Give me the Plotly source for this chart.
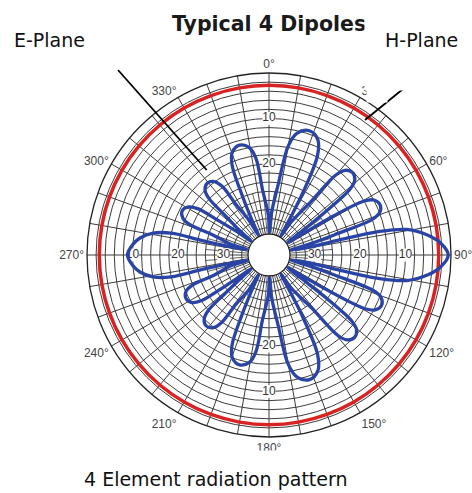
import plotly.graph_objects as go

# ---------------- data ----------------
# E-plane (blue) pattern: angle in degrees (clockwise from top), attenuation in dB
e_theta = [
    332, 334, 335.8, 337.7, 340.4, 345.0, 349.6, 352.3, 354.3, 359.0,
    1, 3, 7.5, 10.0, 13.0, 18.0, 23.0, 26.0, 28.5, 30.0,
    32, 34, 38.1, 39.9, 41.9, 45.4, 48.9, 50.9, 52.7, 54.0,
    56, 58, 58.6, 60.4, 62.3, 65.7, 69.1, 71.0, 72.8, 75.0,
    77, 79, 77.9, 77.9, 79.5, 82.9, 86.0, 90.0, 94.0, 97.1, 100.5, 102.1, 102.1, 101.0,
    103, 105, 107.0, 108.8, 110.7, 114.0, 117.3, 119.2, 121.0, 122.0,
    124, 126, 126.8, 128.6, 130.5, 134.0, 137.5, 139.4, 141.2, 146.0,
    148, 150, 151.5, 154.0, 157.1, 162.0, 166.9, 170.0, 172.5, 177.0,
    179, 181, 185.8, 187.7, 190.4, 195.0, 199.6, 202.3, 204.3, 206.0,
    208, 210, 213.9, 215.1, 217.4, 221.3, 225.2, 227.5, 228.7, 230.0,
    232, 234, 234.8, 236.0, 238.3, 242.3, 246.3, 248.6, 249.8, 254.0,
    256, 258, 257.7, 257.4, 259.3, 262.5, 265.8, 270.0, 274.2, 277.5, 280.7, 282.6, 282.3, 282.0,
    284, 286, 289.7, 291.0, 293.2, 297.0, 300.8, 303.0, 304.3, 306.0,
    308, 310, 312.1, 313.3, 315.6, 319.5, 323.4, 325.7, 326.9, 330.0,
    332,
]
e_db = [
    35.0, 31.2, 25.5, 18.6, 16.0, 15.0, 16.0, 18.6, 25.5, 31.2,
    35.0, 31.2, 24.2, 15.7, 12.5, 11.3, 12.5, 15.7, 24.2, 31.2,
    35.0, 31.2, 25.3, 17.1, 15.0, 14.2, 15.0, 17.1, 25.3, 31.2,
    35.0, 31.2, 24.9, 16.1, 14.0, 13.2, 14.0, 16.1, 24.9, 31.2,
    35.0, 31.2, 24.6, 15.4, 9.2, 4.8, 2.2, 0.6, 2.2, 4.8, 9.2, 15.4, 24.6, 31.2,
    35.0, 31.2, 24.8, 15.8, 13.7, 12.9, 13.7, 15.8, 24.8, 31.2,
    35.0, 31.2, 25.1, 16.7, 14.7, 13.9, 14.7, 16.7, 25.1, 31.2,
    35.0, 31.2, 24.2, 15.6, 12.4, 11.2, 12.4, 15.6, 24.2, 31.2,
    35.0, 31.2, 25.5, 18.6, 16.0, 15.0, 16.0, 18.6, 25.5, 31.2,
    35.0, 31.2, 27.0, 21.8, 19.9, 19.2, 19.9, 21.8, 27.0, 31.2,
    35.0, 31.2, 27.1, 22.0, 20.1, 19.4, 20.1, 22.0, 27.1, 31.2,
    35.0, 31.2, 24.6, 18.0, 14.1, 11.4, 9.9, 8.9, 9.9, 11.4, 14.1, 18.0, 24.6, 31.2,
    35.0, 31.2, 26.8, 21.3, 19.4, 18.6, 19.4, 21.3, 26.8, 31.2,
    35.0, 31.2, 27.0, 21.8, 19.9, 19.2, 19.9, 21.8, 27.0, 31.2,
    35.0,
]

# H-plane (red) pattern: nearly omnidirectional
h_theta = [0, 10, 20, 30, 40, 50, 60, 70, 80, 90, 100, 110, 120, 130, 140, 150, 160, 170, 180,
           190, 200, 210, 220, 230, 240, 250, 260, 270, 280, 290, 300, 310, 320, 330, 340, 350, 360]
h_db = [2.7, 2.7, 2.7, 2.7, 2.7, 2.7, 2.7, 2.7, 2.7, 2.7, 2.7, 2.7, 2.7, 2.7, 2.7, 2.7, 2.7, 2.7, 2.7,
        2.7, 2.7, 2.7, 2.7, 2.7, 2.7, 2.7, 2.7, 2.7, 2.7, 2.7, 2.7, 2.7, 2.7, 2.7, 2.7, 2.7, 2.7]

# radial scale labels printed on the chart
label_theta = [0, 0, 90, 90, 90, 180, 180, 270, 270, 270]
label_db = [10, 20, 30, 20, 10, 10, 20, 10, 20, 30]
label_text = ["10", "20", "30", "20", "10", "10", "20", "10", "20", "30"]

# angular tick labels
angle_label_vals = [0, 30, 60, 90, 120, 150, 180, 210, 240, 270, 300, 330]
angle_label_text = ["0°", "30°", "60°", "90°", "120°", "150°", "180°", "210°", "240°", "270°", "300°", "330°"]

# ---------------- figure ----------------
W, H = 472, 493
CX, CY, R = 269, 255, 182
HOLE_DB = 35.4
HOLE_PX = 21
GRID = "#3c3c3c"


def neg(v):
    return [None if x is None else -x for x in v]


fig = go.Figure()

# extra fine spokes near centre (chart paper)
sp_t, sp_r = [], []
for a in range(5, 360, 10):
    sp_t += [a, a, None]
    sp_r += [-35.3, -26, None]
fig.add_trace(go.Scatterpolar(theta=sp_t, r=sp_r, mode="lines",
                              line=dict(color=GRID, width=0.8), hoverinfo="skip"))

# radial scale labels
fig.add_trace(go.Scatterpolar(
    theta=label_theta, r=neg(label_db), mode="markers+text", text=label_text,
    textposition="middle center",
    marker=dict(symbol="square", size=13, color="white", line=dict(width=0)),
    textfont=dict(family="Liberation Sans, Arial, sans-serif", size=12, color="#333333"),
    hoverinfo="skip"))

# H-plane (red)
fig.add_trace(go.Scatterpolar(theta=h_theta, r=neg(h_db), mode="lines",
                              line=dict(color="#d92222", width=3.5, shape="spline"),
                              name="H-Plane"))

# E-plane (blue)
fig.add_trace(go.Scatterpolar(theta=e_theta, r=neg(e_db), mode="lines",
                              line=dict(color="#2a44a6", width=3.3, shape="spline", smoothing=1),
                              name="E-Plane"))

tick_vals = [i * 10 for i in range(36)]
tick_text = [angle_label_text[angle_label_vals.index(v)] if v in angle_label_vals else "" for v in tick_vals]

fig.update_layout(
    width=W, height=H,
    margin=dict(l=0, r=0, t=0, b=0),
    paper_bgcolor="white", plot_bgcolor="white",
    showlegend=False,
    polar=dict(
        domain=dict(x=[(CX - R) / W, (CX + R) / W], y=[(H - CY - R) / H, (H - CY + R) / H]),
        hole=HOLE_PX / R,
        bgcolor="white",
        radialaxis=dict(range=[-HOLE_DB, 0], tickmode="array",
                        tickvals=[-35.3] + [-v for v in range(34, 0, -2)],
                        showticklabels=False, ticks="", showline=False,
                        gridcolor=GRID, gridwidth=0.8),
        angularaxis=dict(rotation=90, direction="clockwise", tickmode="array",
                         tickvals=tick_vals, ticktext=tick_text, ticks="",
                         showline=True, linecolor="#222222", linewidth=1.3,
                         gridcolor=GRID, gridwidth=0.8,
                         tickfont=dict(family="Liberation Sans, Arial, sans-serif", size=12, color="#444444")),
    ),
)


def px(x):
    return x / W


def py(y):
    return 1 - y / H


# pointer lines
fig.add_shape(type="line", xref="paper", yref="paper", x0=px(118), y0=py(70), x1=px(206.7), y1=py(170),
              line=dict(color="black", width=1.8))
fig.add_shape(type="line", xref="paper", yref="paper", x0=px(403), y0=py(89), x1=px(365), y1=py(120),
              line=dict(color="black", width=1.8))

TXT = "DejaVu Sans, Verdana, sans-serif"
fig.add_annotation(text="<b>Typical 4 Dipoles</b>", x=px(170), y=py(24), xref="paper", yref="paper",
                   xanchor="left", yanchor="middle", showarrow=False,
                   font=dict(family="DejaVu Sans, sans-serif", size=20.5, color="#1a1a1a"))
# white label boxes (cover part of the chart, as in the original)
fig.add_annotation(text="&nbsp;", x=px(364), y=1, xref="paper", yref="paper", xanchor="left", yanchor="top",
                   width=W - 364, height=89, bgcolor="white", borderpad=0, showarrow=False)
fig.add_annotation(text="&nbsp;", x=px(366), y=py(80), xref="paper", yref="paper", xanchor="left", yanchor="top",
                   width=20, height=21, bgcolor="white", borderpad=0, showarrow=False)
fig.add_annotation(text="&nbsp;", x=px(60), y=py(450), xref="paper", yref="paper", xanchor="left", yanchor="top",
                   width=360, height=H - 450, bgcolor="white", borderpad=0, showarrow=False)
fig.add_annotation(text="E-Plane", x=px(12), y=py(40), xref="paper", yref="paper",
                   xanchor="left", yanchor="middle", showarrow=False,
                   font=dict(family=TXT, size=19, color="#111111"))
fig.add_annotation(text="H-Plane", x=px(383), y=py(40), xref="paper", yref="paper",
                   xanchor="left", yanchor="middle", showarrow=False,
                   font=dict(family=TXT, size=19, color="#111111"))
fig.add_annotation(text="4 Element radiation pattern", x=px(82), y=py(479), xref="paper", yref="paper",
                   xanchor="left", yanchor="middle", showarrow=False,
                   font=dict(family=TXT, size=19, color="#111111"))

fig.write_html("out.html", post_script="document.body.style.margin='0px';",
               config={"displayModeBar": False})
